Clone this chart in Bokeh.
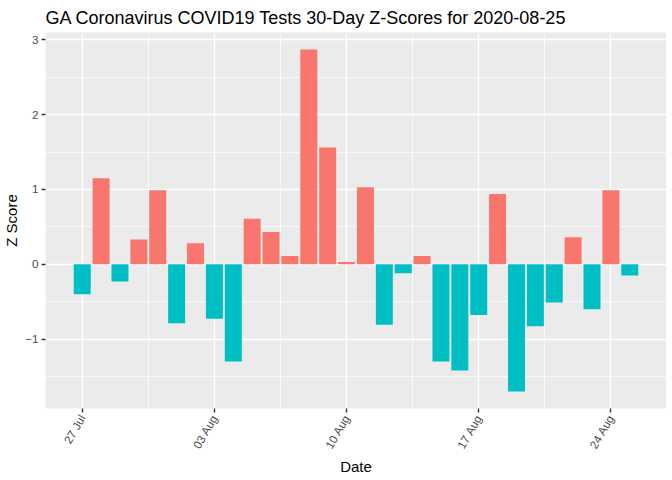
import math
import numpy as np
import pandas as pd
from bokeh.plotting import figure
from bokeh.models import ColumnDataSource, FixedTicker, Range1d
from bokeh.embed import file_html
from bokeh.resources import INLINE

# ---- data ----
dates = pd.date_range("2020-07-27", "2020-08-25", freq="D")
zscores = [-0.40, 1.15, -0.23, 0.33, 0.99, -0.79, 0.28, -0.73, -1.30, 0.61,
           0.43, 0.11, 2.87, 1.56, 0.03, 1.03, -0.81, -0.12, 0.11, -1.30,
           -1.42, -0.68, 0.94, -1.70, -0.83, -0.51, 0.36, -0.60, 0.99, -0.15]
tick_dates = ["2020-07-27", "2020-08-03", "2020-08-10", "2020-08-17", "2020-08-24"]
tick_labels = ["27 Jul", "03 Aug", "10 Aug", "17 Aug", "24 Aug"]
y_ticks = [-1, 0, 1, 2, 3]
y_minor = [-1.5, -0.5, 0.5, 1.5, 2.5]

POS = "#F8766D"
NEG = "#00BFC4"
FONT = "Liberation Sans"

DAY = 86400000.0
xms = dates.values.astype("datetime64[ms]").astype(np.int64).astype(float)
colors = [POS if z > 0 else NEG for z in zscores]
src = ColumnDataSource(dict(x=xms, z=zscores, color=colors))

# ranges with ggplot-like 5% expansion
lo = xms.min() - 0.45 * DAY
hi = xms.max() + 0.45 * DAY
pad = 0.05 * (hi - lo)
ymin, ymax = min(zscores), max(zscores)
ypad = 0.05 * (ymax - ymin)

tick_ms = [float(pd.Timestamp(d).value // 10**6) for d in tick_dates]
minor_ms = [t + 3.5 * DAY for t in tick_ms] + [tick_ms[0] - 3.5 * DAY]

p = figure(frame_width=621, frame_height=376, output_backend="svg", toolbar_location=None,
           x_range=Range1d(lo - pad, hi + pad), y_range=Range1d(ymin - ypad, ymax + ypad),
           x_axis_type="datetime",
           min_border_left=35, min_border_right=0, min_border_top=24, min_border_bottom=60,
           title="GA Coronavirus COVID19 Tests 30-Day Z-Scores for 2020-08-25")

p.vbar(x="x", top="z", bottom=0, width=0.9 * DAY, fill_color="color",
       line_color=None, source=src)

p.background_fill_color = "#EBEBEB"
p.border_fill_color = "white"
p.outline_line_color = None

p.title.text_font = FONT
p.title.text_font_size = "18px"
p.title.text_font_style = "normal"
p.title.text_color = "black"
p.title.standoff = 10
p.title.offset = 0

p.xaxis.ticker = FixedTicker(ticks=tick_ms, minor_ticks=minor_ms)
p.xaxis.major_label_overrides = {t: l for t, l in zip(tick_ms, tick_labels)}
p.xaxis.major_label_orientation = math.pi / 3
p.yaxis.ticker = FixedTicker(ticks=y_ticks, minor_ticks=y_minor)

for ax in (p.xaxis[0], p.yaxis[0]):
    ax.axis_line_color = None
    ax.major_tick_line_color = "#333333"
    ax.major_tick_line_width = 1.4
    ax.major_tick_out = 4
    ax.major_tick_in = 0
    ax.minor_tick_line_color = None
    ax.major_label_text_font = FONT
    ax.major_label_text_font_size = "11.7px"
    ax.major_label_text_color = "#4D4D4D"
    ax.major_label_standoff = 3
    ax.axis_label_text_font = FONT
    ax.axis_label_text_font_size = "15px"
    ax.axis_label_text_font_style = "normal"
    ax.axis_label_text_color = "black"

p.yaxis.axis_label_standoff = 2
p.xaxis.axis_label_standoff = 1
p.xaxis.axis_label = "Date"
p.yaxis.axis_label = "Z Score"

for g in (p.xgrid[0], p.ygrid[0]):
    g.grid_line_color = "white"
    g.grid_line_width = 1.4
    g.minor_grid_line_color = "white"
    g.minor_grid_line_width = 0.7

open("out.html", "w").write(file_html(p, INLINE))
